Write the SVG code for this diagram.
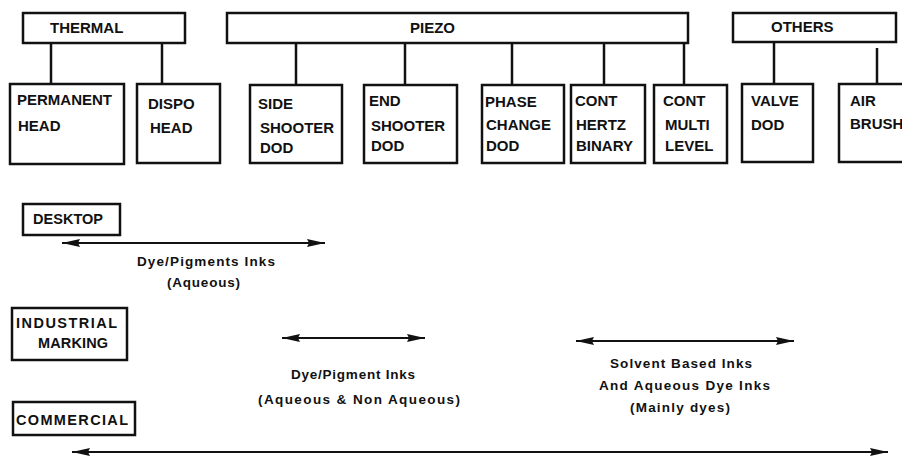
<svg xmlns="http://www.w3.org/2000/svg" width="902" height="457" viewBox="0 0 902 457">
<defs>
<marker id="ah" viewBox="0 0 18 8" refX="18" refY="4" markerWidth="18" markerHeight="8" markerUnits="userSpaceOnUse" orient="auto-start-reverse">
<path d="M0,0 L18,4 L0,8 L2,4 z" fill="#111"/>
</marker>
</defs>
<style>
rect{fill:#fff;stroke:#111;stroke-width:2.5}
.c line{stroke:#111;stroke-width:2.5}
.a line{stroke:#111;stroke-width:1.8;marker-start:url(#ah);marker-end:url(#ah)}
text{font-family:"Liberation Sans",Arial,sans-serif;font-weight:bold;fill:#111}
.t{font-size:15px}
.s{font-size:13.5px}
.m{font-size:14.5px}
</style>
<rect x="0" y="0" width="902" height="457" style="stroke:none"/>
<g class="c" id="connectors">
<line x1="51" y1="43" x2="51" y2="84"/>
<line x1="162" y1="43" x2="162" y2="84"/>
<line x1="296" y1="43" x2="296" y2="85"/>
<line x1="405" y1="43" x2="405" y2="85"/>
<line x1="512" y1="43" x2="512" y2="85"/>
<line x1="604" y1="43" x2="604" y2="85"/>
<line x1="684" y1="43" x2="684" y2="85"/>
<line x1="774" y1="42" x2="774" y2="84"/>
<line x1="877" y1="48" x2="877" y2="84"/>
</g>
<g id="thermal"><rect x="23" y="13" width="162" height="30"/><text class="t" x="50" y="33">THERMAL</text></g>
<g id="piezo"><rect x="227" y="13" width="461" height="30"/><text class="t" x="410" y="33">PIEZO</text></g>
<g id="others"><rect x="733" y="13" width="163" height="29"/><text class="t" x="771" y="32">OTHERS</text></g>
<g id="permanent-head"><rect x="10" y="84" width="114" height="80"/><text class="t" x="17" y="105">PERMANENT</text><text class="t" x="18" y="131">HEAD</text></g>
<g id="dispo-head"><rect x="137" y="84" width="83" height="79"/><text class="t" x="148" y="109">DISPO</text><text class="t" x="150" y="133">HEAD</text></g>
<g id="side-shooter"><rect x="250" y="85" width="92" height="78"/><text class="t" x="258" y="109">SIDE</text><text class="t" x="260" y="133">SHOOTER</text><text class="t" x="260" y="153">DOD</text></g>
<g id="end-shooter"><rect x="364" y="85" width="93" height="78"/><text class="t" x="369" y="106">END</text><text class="t" x="371" y="131">SHOOTER</text><text class="t" x="371" y="151">DOD</text></g>
<g id="phase-change"><rect x="482" y="85" width="82" height="78"/><text class="t" x="485" y="107">PHASE</text><text class="t" x="486" y="130">CHANGE</text><text class="t" x="486" y="151">DOD</text></g>
<g id="cont-hertz"><rect x="571" y="85" width="74" height="78"/><text class="t" x="575" y="106">CONT</text><text class="t" x="576" y="130">HERTZ</text><text class="t" x="576" y="151">BINARY</text></g>
<g id="cont-multi"><rect x="654" y="85" width="73" height="78"/><text class="t" x="663" y="106">CONT</text><text class="t" x="665" y="130">MULTI</text><text class="t" x="665" y="151">LEVEL</text></g>
<g id="valve-dod"><rect x="742" y="84" width="71" height="78"/><text class="t" x="751" y="106">VALVE</text><text class="t" x="751" y="130">DOD</text></g>
<g id="air-brush"><rect x="839" y="84" width="80" height="78"/><text class="t" x="850" y="106">AIR</text><text class="t" x="850" y="129">BRUSH</text></g>
<g id="desktop"><rect x="23" y="204" width="97" height="31"/><text class="m" x="33" y="224" textLength="70">DESKTOP</text></g>
<g id="industrial-marking"><rect x="12" y="308" width="115" height="52"/><text class="m" x="16" y="328" textLength="101">INDUSTRIAL</text><text class="m" x="38" y="348" textLength="70">MARKING</text></g>
<g id="commercial"><rect x="13" y="402" width="122" height="33"/><text class="m" x="16" y="425" textLength="112">COMMERCIAL</text></g>
<g class="a" id="ranges">
<line x1="62" y1="243" x2="325" y2="243"/>
<line x1="282" y1="338" x2="425" y2="338"/>
<line x1="576" y1="341" x2="794" y2="341"/>
<line x1="72" y1="452" x2="888" y2="452"/>
</g>
<g id="labels">
<text class="s" x="137" y="266" textLength="138">Dye/Pigments Inks</text>
<text class="s" x="167" y="287" textLength="73">(Aqueous)</text>
<text class="s" x="291" y="379" textLength="124">Dye/Pigment Inks</text>
<text class="s" x="258" y="404" textLength="202">(Aqueous &amp; Non Aqueous)</text>
<text class="s" x="610" y="368" textLength="142">Solvent Based Inks</text>
<text class="s" x="599" y="390" textLength="171">And Aqueous Dye Inks</text>
<text class="s" x="630" y="412" textLength="100">(Mainly dyes)</text>
</g>
</svg>
